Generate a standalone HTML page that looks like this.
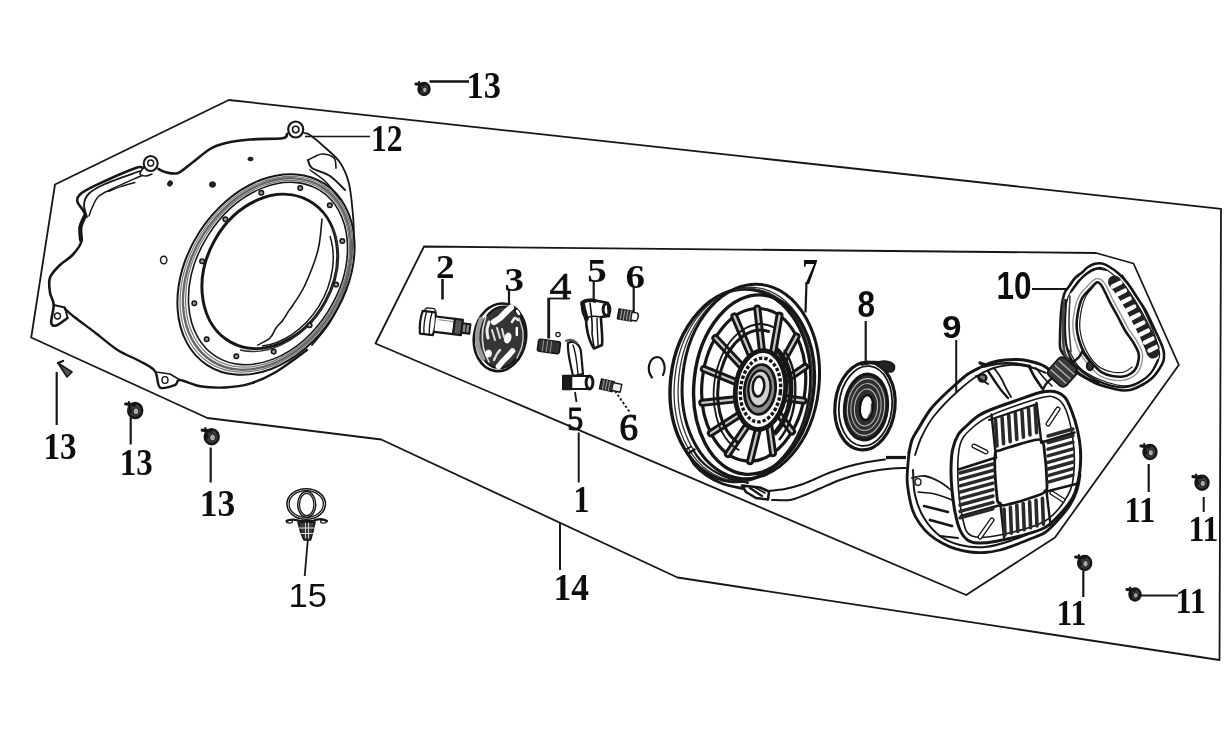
<!DOCTYPE html>
<html><head><meta charset="utf-8"><title>Recoil starter parts diagram</title>
<style>html,body{margin:0;padding:0;background:#fff;overflow:hidden}svg{display:block}</style></head>
<body>
<svg width="1228" height="738" viewBox="0 0 1228 738">
<defs><filter id="soft" x="-2%" y="-2%" width="104%" height="104%"><feGaussianBlur stdDeviation="0.55"/></filter></defs>
<rect width="1228" height="738" fill="#fff"/>
<g filter="url(#soft)">
<polygon points="228.8,100.0 1221.0,208.8 1219.5,660.0 677.5,577.5 381.2,439.5 207.4,418.0 31.2,337.5 55.0,184.5" fill="none" stroke="#161616" stroke-width="1.8" stroke-linejoin="round" stroke-linecap="round" />
<polygon points="424.0,246.5 1096.0,253.0 1133.5,263.5 1178.8,365.0 1055.0,537.5 966.2,595.0 375.5,343.5" fill="none" stroke="#161616" stroke-width="1.8" stroke-linejoin="round" stroke-linecap="round" />
<text x="466.5" y="98.0" font-family='"Liberation Serif", serif' font-size="37.4" font-weight="bold" textLength="34.5" lengthAdjust="spacingAndGlyphs" fill="#111" >13</text>
<line x1="429.5" y1="81.5" x2="469" y2="81.5" stroke="#161616" stroke-width="2.6" />
<g transform="rotate(0 424 89)">
<ellipse cx="424" cy="89" rx="5.5" ry="5.94" transform="rotate(0 424 89)" fill="#3c3c3c" stroke="#161616" stroke-width="2.4" />
<ellipse cx="424.8" cy="89.8" rx="2.31" ry="2.75" transform="rotate(0 424.8 89.8)" fill="#aaa" stroke="#161616" stroke-width="1.0" />
<path d="M416.0,84.0 L423.45,84.6" fill="none" stroke="#161616" stroke-width="3.2" stroke-linejoin="round" stroke-linecap="round" />
<path d="M419.05,82.0 L420.7,90.1" fill="none" stroke="#161616" stroke-width="2.2" stroke-linejoin="round" stroke-linecap="round" />
</g>
<text x="371.0" y="150.5" font-family='"Liberation Serif", serif' font-size="38.5" font-weight="bold" textLength="31.5" lengthAdjust="spacingAndGlyphs" fill="#111" >12</text>
<line x1="305" y1="136.5" x2="370" y2="136.5" stroke="#161616" stroke-width="1.6" />
<text x="43.5" y="458.5" font-family='"Liberation Serif", serif' font-size="37.4" font-weight="bold" textLength="33" lengthAdjust="spacingAndGlyphs" fill="#111" >13</text>
<line x1="56.7" y1="372" x2="56.7" y2="425" stroke="#161616" stroke-width="2.2" />
<text x="119.7" y="475.0" font-family='"Liberation Serif", serif' font-size="37.4" font-weight="bold" textLength="33" lengthAdjust="spacingAndGlyphs" fill="#111" >13</text>
<line x1="130.7" y1="417.5" x2="130.7" y2="444.5" stroke="#161616" stroke-width="2.2" />
<g transform="rotate(0 135.2 410.5)">
<ellipse cx="135.2" cy="410.5" rx="7" ry="7.5600000000000005" transform="rotate(0 135.2 410.5)" fill="#3c3c3c" stroke="#161616" stroke-width="2.4" />
<ellipse cx="136.0" cy="411.3" rx="2.94" ry="3.5" transform="rotate(0 136.0 411.3)" fill="#aaa" stroke="#161616" stroke-width="1.0" />
<path d="M125.69999999999999,404.0 L134.5,404.9" fill="none" stroke="#161616" stroke-width="3.2" stroke-linejoin="round" stroke-linecap="round" />
<path d="M128.89999999999998,402.0 L131.0,411.9" fill="none" stroke="#161616" stroke-width="2.2" stroke-linejoin="round" stroke-linecap="round" />
</g>
<text x="199.7" y="516.0" font-family='"Liberation Serif", serif' font-size="38.5" font-weight="bold" textLength="35.5" lengthAdjust="spacingAndGlyphs" fill="#111" >13</text>
<line x1="210.7" y1="447.5" x2="210.7" y2="482.5" stroke="#161616" stroke-width="2.2" />
<g transform="rotate(0 211.7 436.7)">
<ellipse cx="211.7" cy="436.7" rx="7" ry="7.5600000000000005" transform="rotate(0 211.7 436.7)" fill="#3c3c3c" stroke="#161616" stroke-width="2.4" />
<ellipse cx="212.5" cy="437.5" rx="2.94" ry="3.5" transform="rotate(0 212.5 437.5)" fill="#aaa" stroke="#161616" stroke-width="1.0" />
<path d="M202.2,430.2 L211.0,431.09999999999997" fill="none" stroke="#161616" stroke-width="3.2" stroke-linejoin="round" stroke-linecap="round" />
<path d="M205.39999999999998,428.2 L207.5,438.09999999999997" fill="none" stroke="#161616" stroke-width="2.2" stroke-linejoin="round" stroke-linecap="round" />
</g>
<text x="436.0" y="278.0" font-family='"Liberation Serif", serif' font-size="33.8" font-weight="bold" textLength="18.5" lengthAdjust="spacingAndGlyphs" fill="#111" >2</text>
<line x1="442.5" y1="279" x2="442.5" y2="299.5" stroke="#161616" stroke-width="2.6" />
<text x="504.5" y="291.0" font-family='"Liberation Serif", serif' font-size="33.8" font-weight="bold" textLength="19.5" lengthAdjust="spacingAndGlyphs" fill="#111" >3</text>
<line x1="509" y1="290" x2="509" y2="309" stroke="#161616" stroke-width="2.2" />
<text x="549.5" y="299.0" font-family='"Liberation Serif", serif' font-size="37.4" font-weight="normal" textLength="22" lengthAdjust="spacingAndGlyphs" fill="#111" stroke="#111" stroke-width="0.6">4</text>
<line x1="547.5" y1="298.5" x2="570" y2="298.5" stroke="#161616" stroke-width="1.8" />
<line x1="548.7" y1="298.5" x2="548.7" y2="338.5" stroke="#161616" stroke-width="2.8" />
<text x="587.2" y="282.0" font-family='"Liberation Serif", serif' font-size="33.8" font-weight="bold" textLength="19.5" lengthAdjust="spacingAndGlyphs" fill="#111" >5</text>
<line x1="593.7" y1="281" x2="593.7" y2="305" stroke="#161616" stroke-width="2.2" />
<text x="625.5" y="288.0" font-family='"Liberation Serif", serif' font-size="33.8" font-weight="bold" textLength="19.5" lengthAdjust="spacingAndGlyphs" fill="#111" >6</text>
<line x1="633.7" y1="287" x2="633.7" y2="316" stroke="#161616" stroke-width="2.2" />
<text x="567.2" y="429.7" font-family='"Liberation Serif", serif' font-size="34.3" font-weight="normal" textLength="16" lengthAdjust="spacingAndGlyphs" fill="#111" stroke="#111" stroke-width="1.1">5</text>
<line x1="578.7" y1="432.5" x2="578.7" y2="482.5" stroke="#161616" stroke-width="2" />
<text x="619.5" y="439.7" font-family='"Liberation Serif", serif' font-size="37.4" font-weight="normal" textLength="18.5" lengthAdjust="spacingAndGlyphs" fill="#111" stroke="#111" stroke-width="1.2">6</text>
<line x1="615" y1="391" x2="630" y2="412.5" stroke="#161616" stroke-width="1.8" stroke-dasharray="2.5 2"/>
<text x="573.5" y="512.0" font-family='"Liberation Serif", serif' font-size="37.4" font-weight="bold" textLength="16" lengthAdjust="spacingAndGlyphs" fill="#111" >1</text>
<text x="553.5" y="599.5" font-family='"Liberation Serif", serif' font-size="38.5" font-weight="bold" textLength="35.5" lengthAdjust="spacingAndGlyphs" fill="#111" >14</text>
<line x1="560" y1="522.5" x2="560" y2="570" stroke="#161616" stroke-width="2" />
<text x="802.2" y="283.5" font-family='"Liberation Serif", serif' font-size="35.4" font-weight="bold" textLength="15.5" lengthAdjust="spacingAndGlyphs" fill="#111" >7</text>
<line x1="806.5" y1="282" x2="805.5" y2="312.5" stroke="#161616" stroke-width="2.2" />
<text x="1124.5" y="521.5" font-family='"Liberation Serif", serif' font-size="35.4" font-weight="bold" textLength="31" lengthAdjust="spacingAndGlyphs" fill="#111" >11</text>
<line x1="1148.7" y1="464" x2="1148.7" y2="492" stroke="#161616" stroke-width="2.2" />
<g transform="rotate(0 1150 452)">
<ellipse cx="1150" cy="452" rx="6.5" ry="7.0200000000000005" transform="rotate(0 1150 452)" fill="#3c3c3c" stroke="#161616" stroke-width="2.4" />
<ellipse cx="1150.8" cy="452.8" rx="2.73" ry="3.25" transform="rotate(0 1150.8 452.8)" fill="#aaa" stroke="#161616" stroke-width="1.0" />
<path d="M1141.0,446.0 L1149.35,446.8" fill="none" stroke="#161616" stroke-width="3.2" stroke-linejoin="round" stroke-linecap="round" />
<path d="M1144.15,444.0 L1146.1,453.3" fill="none" stroke="#161616" stroke-width="2.2" stroke-linejoin="round" stroke-linecap="round" />
</g>
<text x="1188.5" y="541.0" font-family='"Liberation Serif", serif' font-size="35.4" font-weight="bold" textLength="30" lengthAdjust="spacingAndGlyphs" fill="#111" >11</text>
<line x1="1203.7" y1="497" x2="1203.7" y2="512" stroke="#161616" stroke-width="2" />
<g transform="rotate(0 1202 482.7)">
<ellipse cx="1202" cy="482.7" rx="6.5" ry="7.0200000000000005" transform="rotate(0 1202 482.7)" fill="#3c3c3c" stroke="#161616" stroke-width="2.4" />
<ellipse cx="1202.8" cy="483.5" rx="2.73" ry="3.25" transform="rotate(0 1202.8 483.5)" fill="#aaa" stroke="#161616" stroke-width="1.0" />
<path d="M1193.0,476.7 L1201.35,477.5" fill="none" stroke="#161616" stroke-width="3.2" stroke-linejoin="round" stroke-linecap="round" />
<path d="M1196.15,474.7 L1198.1,484.0" fill="none" stroke="#161616" stroke-width="2.2" stroke-linejoin="round" stroke-linecap="round" />
</g>
<text x="1056.5" y="625.0" font-family='"Liberation Serif", serif' font-size="35.4" font-weight="bold" textLength="30" lengthAdjust="spacingAndGlyphs" fill="#111" >11</text>
<line x1="1083.3" y1="571" x2="1083.3" y2="597" stroke="#161616" stroke-width="2.2" />
<g transform="rotate(0 1084.7 563)">
<ellipse cx="1084.7" cy="563" rx="6.5" ry="7.0200000000000005" transform="rotate(0 1084.7 563)" fill="#3c3c3c" stroke="#161616" stroke-width="2.4" />
<ellipse cx="1085.5" cy="563.8" rx="2.73" ry="3.25" transform="rotate(0 1085.5 563.8)" fill="#aaa" stroke="#161616" stroke-width="1.0" />
<path d="M1075.7,557.0 L1084.05,557.8" fill="none" stroke="#161616" stroke-width="3.2" stroke-linejoin="round" stroke-linecap="round" />
<path d="M1078.8500000000001,555.0 L1080.8,564.3" fill="none" stroke="#161616" stroke-width="2.2" stroke-linejoin="round" stroke-linecap="round" />
</g>
<text x="1175.5" y="613.0" font-family='"Liberation Serif", serif' font-size="35.4" font-weight="bold" textLength="30.5" lengthAdjust="spacingAndGlyphs" fill="#111" >11</text>
<line x1="1141" y1="595.5" x2="1178" y2="595.5" stroke="#161616" stroke-width="2.2" />
<g transform="rotate(0 1135 594.5)">
<ellipse cx="1135" cy="594.5" rx="5.5" ry="5.94" transform="rotate(0 1135 594.5)" fill="#3c3c3c" stroke="#161616" stroke-width="2.4" />
<ellipse cx="1135.8" cy="595.3" rx="2.31" ry="2.75" transform="rotate(0 1135.8 595.3)" fill="#aaa" stroke="#161616" stroke-width="1.0" />
<path d="M1127.0,589.5 L1134.45,590.1" fill="none" stroke="#161616" stroke-width="3.2" stroke-linejoin="round" stroke-linecap="round" />
<path d="M1130.05,587.5 L1131.7,595.6" fill="none" stroke="#161616" stroke-width="2.2" stroke-linejoin="round" stroke-linecap="round" />
</g>
<text x="857.4" y="316.5" font-family='"Liberation Sans", sans-serif' font-size="36.4" font-weight="bold" textLength="17.5" lengthAdjust="spacingAndGlyphs" fill="#111" >8</text>
<line x1="865.7" y1="321" x2="865.7" y2="365" stroke="#161616" stroke-width="2.2" />
<text x="942.0" y="338.0" font-family='"Liberation Sans", sans-serif' font-size="32.2" font-weight="bold" textLength="19.5" lengthAdjust="spacingAndGlyphs" fill="#111" >9</text>
<line x1="956.2" y1="340" x2="956.2" y2="392.5" stroke="#161616" stroke-width="2" />
<text x="996.5" y="298.5" font-family='"Liberation Sans", sans-serif' font-size="38.0" font-weight="bold" textLength="35" lengthAdjust="spacingAndGlyphs" fill="#111" >10</text>
<line x1="1032" y1="289" x2="1069" y2="289" stroke="#161616" stroke-width="1.8" />
<text x="288.5" y="607.0" font-family='"Liberation Sans", sans-serif' font-size="32.8" font-weight="normal" textLength="38.5" lengthAdjust="spacingAndGlyphs" fill="#111" >15</text>
<line x1="307.8" y1="540" x2="304.7" y2="576" stroke="#161616" stroke-width="1.8" />
<path d="M287.0,134.0C286.2,134.7 288.7,137.3 282.5,138.2C276.3,139.1 259.6,138.7 250.0,139.5C240.4,140.3 231.7,141.6 225.0,143.2C218.3,144.8 215.8,145.4 210.0,149.0C204.2,152.6 195.4,160.5 190.0,164.5C184.6,168.5 181.7,171.9 177.5,173.2C173.3,174.4 168.2,172.7 165.0,172.0C161.8,171.3 159.6,169.5 158.5,169.0" fill="none" stroke="#161616" stroke-width="2.6" stroke-linejoin="round" stroke-linecap="round" />
<ellipse cx="150.7" cy="163.5" rx="7" ry="7.5" transform="rotate(0 150.7 163.5)" fill="none" stroke="#161616" stroke-width="2.0" />
<ellipse cx="150.7" cy="163" rx="3" ry="3" transform="rotate(0 150.7 163)" fill="none" stroke="#161616" stroke-width="1.4" />
<ellipse cx="295.7" cy="129.5" rx="7.5" ry="8" transform="rotate(0 295.7 129.5)" fill="none" stroke="#161616" stroke-width="2.2" />
<ellipse cx="295.7" cy="129.5" rx="3.2" ry="3.2" transform="rotate(0 295.7 129.5)" fill="none" stroke="#161616" stroke-width="1.6" />
<path d="M143.0,168.0C141.7,168.0 143.0,165.2 135.0,168.2C127.0,171.1 104.2,181.3 95.0,185.7C85.8,190.1 82.9,191.8 80.0,194.5C77.1,197.2 76.7,198.7 77.5,202.0C78.3,205.3 84.6,210.3 85.0,214.5C85.4,218.7 80.6,222.4 80.0,227.0C79.4,231.6 82.5,237.3 81.2,242.0C80.0,246.7 76.0,251.2 72.5,255.0C69.0,258.8 63.8,261.2 60.0,265.0C56.2,268.8 51.7,272.9 50.0,277.5C48.3,282.1 49.4,287.9 50.0,292.5C50.6,297.1 53.5,300.0 53.7,305.0C53.9,310.0 50.8,319.1 51.2,322.5C51.6,325.9 53.5,326.2 56.2,325.5C58.9,324.8 65.6,319.2 67.5,318.0" fill="none" stroke="#161616" stroke-width="2.6" stroke-linejoin="round" stroke-linecap="round" />
<path d="M140.0,171.0C134.2,173.2 113.5,180.2 105.0,184.0C96.5,187.8 92.5,190.1 89.0,193.5C85.5,196.9 84.3,200.6 84.0,204.5C83.7,208.4 86.5,214.9 87.0,217.0" fill="none" stroke="#161616" stroke-width="1.8" stroke-linejoin="round" stroke-linecap="round" />
<path d="M142.0,175.5C137.2,177.7 120.2,185.0 113.0,188.5C105.8,192.0 102.0,193.2 98.5,196.5C95.0,199.8 93.6,204.8 92.0,208.0C90.4,211.2 89.5,214.7 89.0,216.0" fill="none" stroke="#161616" stroke-width="1.5" stroke-linejoin="round" stroke-linecap="round" />
<path d="M135.0,182.5C132.5,183.2 124.4,185.5 120.0,187.0C115.6,188.5 110.4,190.8 108.5,191.5" fill="none" stroke="#161616" stroke-width="1.3" stroke-linejoin="round" stroke-linecap="round" />
<path d="M85.0,216.0C84.2,217.8 81.2,223.0 80.5,227.0C79.8,231.0 80.9,237.8 81.0,240.0" fill="none" stroke="#161616" stroke-width="4.2" stroke-linejoin="round" stroke-linecap="round" />
<path d="M143.0,168.0C142.5,169.0 139.5,172.7 140.0,174.0C140.5,175.3 144.0,176.0 146.0,176.0C148.0,176.0 151.0,174.3 152.0,174.0" fill="none" stroke="#161616" stroke-width="1.6" stroke-linejoin="round" stroke-linecap="round" />
<path d="M53.7,305 L65,307.5 L67.5,318" fill="none" stroke="#161616" stroke-width="1.8" stroke-linejoin="round" stroke-linecap="round" />
<ellipse cx="57.5" cy="316" rx="3" ry="3" transform="rotate(0 57.5 316)" fill="none" stroke="#161616" stroke-width="1.3" />
<path d="M65.0,309.0C66.7,310.4 70.0,313.6 75.0,317.5C80.0,321.4 87.9,327.1 95.0,332.5C102.1,337.9 110.0,345.2 117.5,350.0C125.0,354.8 133.8,357.7 140.0,361.2C146.2,364.7 151.7,366.8 155.0,371.2C158.3,375.6 156.7,385.2 160.0,387.5C163.3,389.8 171.7,386.2 175.0,385.0C178.3,383.8 175.8,379.8 180.0,380.0C184.2,380.2 192.5,384.9 200.0,386.2C207.5,387.4 216.7,387.9 225.0,387.5C233.3,387.1 241.7,386.2 250.0,383.7C258.3,381.2 265.5,378.1 275.0,372.5C284.5,366.9 301.7,353.8 307.0,350.0" fill="none" stroke="#161616" stroke-width="2.4" stroke-linejoin="round" stroke-linecap="round" />
<ellipse cx="165" cy="380" rx="3" ry="3.4" transform="rotate(0 165 380)" fill="none" stroke="#161616" stroke-width="1.4" />
<path d="M156,372 L170,374 L180,380" fill="none" stroke="#161616" stroke-width="1.6" stroke-linejoin="round" stroke-linecap="round" />
<path d="M304.0,133.0C305.0,133.3 306.5,132.6 310.0,135.0C313.5,137.4 320.0,142.9 325.0,147.5C330.0,152.1 336.1,156.7 340.0,162.5C343.9,168.3 346.6,174.6 348.7,182.5C350.8,190.4 351.7,201.2 352.5,210.0C353.3,218.8 354.1,225.8 353.7,235.0C353.3,244.2 351.8,255.0 350.0,265.0C348.2,275.0 346.3,285.5 343.0,295.0C339.7,304.5 335.2,313.7 330.0,322.0C324.8,330.3 315.0,341.2 312.0,345.0" fill="none" stroke="#161616" stroke-width="1.8" stroke-linejoin="round" stroke-linecap="round" />
<path d="M308.0,160.0C310.3,159.0 317.7,154.3 322.0,154.0C326.3,153.7 331.7,155.7 334.0,158.0C336.3,160.3 335.7,166.3 336.0,168.0" fill="none" stroke="#161616" stroke-width="1.6" stroke-linejoin="round" stroke-linecap="round" />
<path d="M308.0,160.0C308.7,161.3 308.3,165.3 312.0,168.0C315.7,170.7 324.5,172.3 330.0,176.0C335.5,179.7 342.5,187.7 345.0,190.0" fill="none" stroke="#161616" stroke-width="2.0" stroke-linejoin="round" stroke-linecap="round" />
<path d="M310.0,170.0C312.7,172.0 321.0,177.0 326.0,182.0C331.0,187.0 337.7,197.0 340.0,200.0" fill="none" stroke="#161616" stroke-width="1.4" stroke-linejoin="round" stroke-linecap="round" />
<ellipse cx="266" cy="274.5" rx="79" ry="108" transform="rotate(33 266 274.5)" fill="none" stroke="#161616" stroke-width="2.0" />
<ellipse cx="266.5" cy="274.2" rx="77" ry="105.5" transform="rotate(33 266.5 274.2)" fill="none" stroke="#777" stroke-width="1.2" />
<ellipse cx="267" cy="274" rx="75" ry="103" transform="rotate(32.5 267 274)" fill="none" stroke="#666" stroke-width="2.4" />
<ellipse cx="267.5" cy="273.7" rx="73" ry="100.5" transform="rotate(32.5 267.5 273.7)" fill="none" stroke="#777" stroke-width="1.2" />
<ellipse cx="268" cy="273.5" rx="71" ry="98" transform="rotate(32 268 273.5)" fill="none" stroke="#161616" stroke-width="1.6" />
<ellipse cx="269.8" cy="271.4" rx="63.3" ry="80.8" transform="rotate(29 269.8 271.4)" fill="none" stroke="#161616" stroke-width="3.0" />
<path d="M322.0,219.0C321.3,224.2 320.8,239.0 318.0,250.0C315.2,261.0 309.2,275.8 305.0,285.0C300.8,294.2 295.8,300.5 293.0,305.0C290.2,309.5 289.7,309.5 288.0,312.0C286.3,314.5 285.0,317.3 283.0,320.0C281.0,322.7 278.2,325.0 276.0,328.0C273.8,331.0 273.0,335.2 270.0,338.0C267.0,340.8 260.0,343.8 258.0,345.0" fill="none" stroke="#161616" stroke-width="1.6" stroke-linejoin="round" stroke-linecap="round" />
<path d="M330,236 A60,77 29 0 1 262,346" fill="none" stroke="#161616" stroke-width="1.5"/>
<path d="M333,228 A66,84 29 0 1 240,350" fill="none" stroke="#333" stroke-width="1.3"/>
<ellipse cx="261.3" cy="192.7" rx="2.3" ry="2.3" transform="rotate(0 261.3 192.7)" fill="#999" stroke="#161616" stroke-width="1.5" />
<ellipse cx="300.2" cy="188.0" rx="2.3" ry="2.3" transform="rotate(0 300.2 188.0)" fill="#999" stroke="#161616" stroke-width="1.5" />
<ellipse cx="329.8" cy="205.2" rx="2.3" ry="2.3" transform="rotate(0 329.8 205.2)" fill="#999" stroke="#161616" stroke-width="1.5" />
<ellipse cx="342.3" cy="241.0" rx="2.3" ry="2.3" transform="rotate(0 342.3 241.0)" fill="#999" stroke="#161616" stroke-width="1.5" />
<ellipse cx="336.1" cy="284.6" rx="2.3" ry="2.3" transform="rotate(0 336.1 284.6)" fill="#999" stroke="#161616" stroke-width="1.5" />
<ellipse cx="309.6" cy="325.2" rx="2.3" ry="2.3" transform="rotate(0 309.6 325.2)" fill="#999" stroke="#161616" stroke-width="1.5" />
<ellipse cx="273.7" cy="351.6" rx="2.3" ry="2.3" transform="rotate(0 273.7 351.6)" fill="#999" stroke="#161616" stroke-width="1.5" />
<ellipse cx="236.3" cy="356.3" rx="2.3" ry="2.3" transform="rotate(0 236.3 356.3)" fill="#999" stroke="#161616" stroke-width="1.5" />
<ellipse cx="206.7" cy="339.2" rx="2.3" ry="2.3" transform="rotate(0 206.7 339.2)" fill="#999" stroke="#161616" stroke-width="1.5" />
<ellipse cx="194.3" cy="303.3" rx="2.3" ry="2.3" transform="rotate(0 194.3 303.3)" fill="#999" stroke="#161616" stroke-width="1.5" />
<ellipse cx="202.1" cy="261.3" rx="2.3" ry="2.3" transform="rotate(0 202.1 261.3)" fill="#999" stroke="#161616" stroke-width="1.5" />
<ellipse cx="225.4" cy="219.2" rx="2.3" ry="2.3" transform="rotate(0 225.4 219.2)" fill="#999" stroke="#161616" stroke-width="1.5" />
<ellipse cx="163.7" cy="260" rx="3.2" ry="3.8" transform="rotate(0 163.7 260)" fill="none" stroke="#161616" stroke-width="1.4" />
<ellipse cx="212.5" cy="184.5" rx="3" ry="2.8" transform="rotate(0 212.5 184.5)" fill="#222" stroke="#161616" stroke-width="1" />
<ellipse cx="250.5" cy="159" rx="2.6" ry="1.8" transform="rotate(0 250.5 159)" fill="#222" stroke="#161616" stroke-width="1" />
<ellipse cx="170" cy="183.5" rx="2.2" ry="2.6" transform="rotate(30 170 183.5)" fill="#222" stroke="#161616" stroke-width="1" />
<g transform="translate(0 4.5) rotate(7 444 322)">
<path d="M421,309 q-2.5,11.5 0,23 h13 q2.5,-11.5 0,-23 z" fill="#fff" stroke="#161616" stroke-width="2.2" stroke-linejoin="round" stroke-linecap="round" />
<path d="M425,309 q-2,11.5 0,23 M430.5,309 q-2,11.5 0,23" fill="none" stroke="#161616" stroke-width="1.3" stroke-linejoin="round" stroke-linecap="round" />
<path d="M435,313 h19 v15.5 h-19" fill="#fff" stroke="#161616" stroke-width="2.2" stroke-linejoin="round" stroke-linecap="round" />
<path d="M438,316 h14" fill="none" stroke="#888" stroke-width="1.0" stroke-linejoin="round" stroke-linecap="round" />
<path d="M454,313 h8 v15.5 h-8z" fill="#555" stroke="#161616" stroke-width="2.0" stroke-linejoin="round" stroke-linecap="round" />
<path d="M462,316.5 h8 v9.5 h-8z" fill="#888" stroke="#161616" stroke-width="2.0" stroke-linejoin="round" stroke-linecap="round" />
<path d="M466,316.5 v9.5" fill="none" stroke="#161616" stroke-width="1.2" stroke-linejoin="round" stroke-linecap="round" />
<path d="M423,307.5 l2,-2 h7 l2,2" fill="none" stroke="#161616" stroke-width="1.3" stroke-linejoin="round" stroke-linecap="round" />
</g>
<ellipse cx="500" cy="337.3" rx="26" ry="34" transform="rotate(9 500 337.3)" fill="#fff" stroke="#161616" stroke-width="2.6" />
<ellipse cx="501.5" cy="337.3" rx="22.5" ry="31" transform="rotate(9 501.5 337.3)" fill="#363636" stroke="#161616" stroke-width="2.0" />
<path d="M481.0,319.0C480.4,321.2 478.0,327.5 477.5,332.0C477.0,336.5 477.1,341.5 478.0,346.0C478.9,350.5 482.2,356.8 483.0,359.0" fill="none" stroke="#9a9a9a" stroke-width="4.5" stroke-linejoin="round" stroke-linecap="round" />
<path d="M486.0,316.0C485.4,318.7 482.9,326.7 482.5,332.0C482.1,337.3 482.4,343.0 483.5,348.0C484.6,353.0 488.1,359.7 489.0,362.0" fill="none" stroke="#ddd" stroke-width="1.6" stroke-linejoin="round" stroke-linecap="round" />
<path d="M494.0,322.0C495.0,321.3 498.0,319.7 500.0,318.0C502.0,316.3 504.2,313.8 506.0,312.0C507.8,310.2 510.2,308.2 511.0,307.5" fill="none" stroke="#fff" stroke-width="6.2" stroke-linejoin="round" stroke-linecap="round" />
<path d="M498.5,366.5C499.2,365.6 501.4,362.8 503.0,361.0C504.6,359.2 506.4,357.7 508.0,356.0C509.6,354.3 511.8,351.8 512.5,351.0" fill="none" stroke="#fff" stroke-width="5.6" stroke-linejoin="round" stroke-linecap="round" />
<ellipse cx="507.7" cy="338" rx="3.2" ry="5.2" transform="rotate(15 507.7 338)" fill="#fff" stroke="#fff" stroke-width="0.8" />
<ellipse cx="488.5" cy="353.5" rx="3" ry="3.6" transform="rotate(0 488.5 353.5)" fill="#fff" stroke="#fff" stroke-width="0.8" />
<path d="M516.8,328 v7" fill="none" stroke="#fff" stroke-width="2.4" stroke-linejoin="round" stroke-linecap="round" />
<path d="M517,311 l2,3" fill="none" stroke="#fff" stroke-width="2.6" stroke-linejoin="round" stroke-linecap="round" />
<path d="M492,330 l3,10 M497,328 l3,10 M502,329 l2,8" fill="none" stroke="#ddd" stroke-width="2.0" stroke-linejoin="round" stroke-linecap="round" />
<path d="M489.0,322.0C488.7,323.3 487.2,327.3 487.0,330.0C486.8,332.7 487.8,336.7 488.0,338.0" fill="none" stroke="#eee" stroke-width="3.0" stroke-linejoin="round" stroke-linecap="round" />
<path d="M512.0,322.0C512.5,321.3 514.0,318.3 515.0,318.0C516.0,317.7 517.5,319.7 518.0,320.0" fill="none" stroke="#eee" stroke-width="2.6" stroke-linejoin="round" stroke-linecap="round" />
<path d="M494.0,360.0C494.5,359.0 496.0,355.7 497.0,354.0C498.0,352.3 499.5,350.7 500.0,350.0" fill="none" stroke="#ddd" stroke-width="2.4" stroke-linejoin="round" stroke-linecap="round" />
<path d="M519.0,318.0C519.7,320.3 522.5,327.3 523.0,332.0C523.5,336.7 523.0,341.7 522.0,346.0C521.0,350.3 517.8,356.0 517.0,358.0" fill="none" stroke="#ccc" stroke-width="1.4" stroke-linejoin="round" stroke-linecap="round" />
<g transform="rotate(8 549 346)">
<path d="M540,340.5 h18 q2,0 2,2 v8 q0,2 -2,2 h-18 q-2,0 -2,-2 v-8 q0,-2 2,-2z" fill="#333" stroke="#161616" stroke-width="1.6" stroke-linejoin="round" stroke-linecap="round" />
<path d="M543,341 v11 M547,341 v11 M551,341 v11" fill="none" stroke="#999" stroke-width="1" stroke-linejoin="round" stroke-linecap="round" />
</g>
<ellipse cx="558" cy="334.5" rx="2.2" ry="2.2" transform="rotate(0 558 334.5)" fill="none" stroke="#161616" stroke-width="1.2" />
<path d="M582,304 C582,300 590,299 598,301 L608,303 L609,316 L601,317 C601,326 603,336 602,345 L594,348.5 C588,340 586,326 586,318 C583,315 582,310 582,304Z" fill="#fff" stroke="#161616" stroke-width="2.6" stroke-linejoin="round" stroke-linecap="round" />
<path d="M582.5,303 C584,312 586,316 586.5,319" fill="none" stroke="#161616" stroke-width="4.6" stroke-linejoin="round" stroke-linecap="round" />
<path d="M584,301.5 C588,300 592,300 595,301" fill="none" stroke="#161616" stroke-width="3.6" stroke-linejoin="round" stroke-linecap="round" />
<path d="M590,303 C591,312 593,322 592,334 L594,347" fill="none" stroke="#161616" stroke-width="1.6" stroke-linejoin="round" stroke-linecap="round" />
<path d="M597,318 C597,328 598,338 598,345" fill="none" stroke="#161616" stroke-width="1.4" stroke-linejoin="round" stroke-linecap="round" />
<ellipse cx="606.5" cy="309.5" rx="3.4" ry="6" transform="rotate(0 606.5 309.5)" fill="none" stroke="#161616" stroke-width="3.0" />
<path d="M586,318 C590,316 596,316 601,317" fill="none" stroke="#161616" stroke-width="1.4" stroke-linejoin="round" stroke-linecap="round" />
<g transform="rotate(10 628 316)">
<path d="M618,310.5 h14 v10 h-14z" fill="#333" stroke="#161616" stroke-width="1.4" stroke-linejoin="round" stroke-linecap="round" />
<path d="M621,310.5 v10 M624,310.5 v10 M627,310.5 v10 M630,310.5 v10" fill="none" stroke="#aaa" stroke-width="0.9" stroke-linejoin="round" stroke-linecap="round" />
<path d="M632,311.5 h5 q2.5,4 0,8 h-5" fill="#fff" stroke="#161616" stroke-width="1.5" stroke-linejoin="round" stroke-linecap="round" />
</g>
<path d="M568,343 C574,340 580,344 581,352 L583,374 L573,376 C571,366 567,352 568,343Z" fill="#fff" stroke="#161616" stroke-width="2.2" stroke-linejoin="round" stroke-linecap="round" />
<path d="M566,341 C570,339 574,340 577,343" fill="none" stroke="#555" stroke-width="2.0" stroke-linejoin="round" stroke-linecap="round" />
<path d="M573,345 C576,352 577,364 578,374" fill="none" stroke="#161616" stroke-width="1.4" stroke-linejoin="round" stroke-linecap="round" />
<path d="M563,376 h25 v13 h-25z" fill="#fff" stroke="#161616" stroke-width="2.0" stroke-linejoin="round" stroke-linecap="round" />
<path d="M563,375.5 h8.5 v14 h-8.5z" fill="#1c1c1c" stroke="#161616" stroke-width="1.6" stroke-linejoin="round" stroke-linecap="round" />
<ellipse cx="589.5" cy="382.5" rx="3.4" ry="6.4" transform="rotate(0 589.5 382.5)" fill="#fff" stroke="#161616" stroke-width="3.0" />
<line x1="575" y1="392" x2="576.5" y2="402" stroke="#161616" stroke-width="1.8" />
<g transform="rotate(12 610 387)">
<path d="M600,381 h13 v10 h-13z" fill="#333" stroke="#161616" stroke-width="1.4" stroke-linejoin="round" stroke-linecap="round" />
<path d="M603,381 v10 M606,381 v10 M609,381 v10" fill="none" stroke="#aaa" stroke-width="0.9" stroke-linejoin="round" stroke-linecap="round" />
<path d="M613,382 h8 v8 h-8" fill="#eee" stroke="#161616" stroke-width="1.4" stroke-linejoin="round" stroke-linecap="round" />
</g>
<path d="M652,377.5 C646,370 649,358 657,357 C664,357 666.5,368 663,375" fill="none" stroke="#161616" stroke-width="2.2" stroke-linejoin="round" stroke-linecap="round" />
<ellipse cx="740.4" cy="385.3" rx="70" ry="96.5" transform="rotate(6 740.4 385.3)" fill="none" stroke="#161616" stroke-width="3.4" />
<ellipse cx="743" cy="384.5" rx="68.5" ry="96.5" transform="rotate(6 743 384.5)" fill="none" stroke="#333" stroke-width="1.3" />
<ellipse cx="746" cy="383.5" rx="67.5" ry="96.5" transform="rotate(6 746 383.5)" fill="none" stroke="#333" stroke-width="1.3" />
<ellipse cx="750.8" cy="381.5" rx="68.3" ry="97.5" transform="rotate(6 750.8 381.5)" fill="none" stroke="#161616" stroke-width="3.0" />
<ellipse cx="754" cy="384.6" rx="60" ry="90" transform="rotate(6 754 384.6)" fill="none" stroke="#161616" stroke-width="3.4" />
<ellipse cx="753.7" cy="384.8" rx="51.7" ry="76.5" transform="rotate(6 753.7 384.8)" fill="none" stroke="#161616" stroke-width="3.2" />
<path d="M784.1,398.0 L803.5,400.7" fill="none" stroke="#161616" stroke-width="8" stroke-linejoin="round" stroke-linecap="round" stroke-linecap="butt"/>
<path d="M784.1,398.0 L803.5,400.7" fill="none" stroke="#c8c8c8" stroke-width="2.2" stroke-linejoin="round" stroke-linecap="round" />
<path d="M778.4,413.7 L792.0,431.5" fill="none" stroke="#161616" stroke-width="8" stroke-linejoin="round" stroke-linecap="round" stroke-linecap="butt"/>
<path d="M778.4,413.7 L792.0,431.5" fill="none" stroke="#c8c8c8" stroke-width="2.2" stroke-linejoin="round" stroke-linecap="round" />
<path d="M769.1,424.7 L773.0,453.1" fill="none" stroke="#161616" stroke-width="8" stroke-linejoin="round" stroke-linecap="round" stroke-linecap="butt"/>
<path d="M769.1,424.7 L773.0,453.1" fill="none" stroke="#c8c8c8" stroke-width="2.2" stroke-linejoin="round" stroke-linecap="round" />
<path d="M758.0,428.9 L750.1,461.1" fill="none" stroke="#161616" stroke-width="8" stroke-linejoin="round" stroke-linecap="round" stroke-linecap="butt"/>
<path d="M758.0,428.9 L750.1,461.1" fill="none" stroke="#c8c8c8" stroke-width="2.2" stroke-linejoin="round" stroke-linecap="round" />
<path d="M747.3,425.3 L727.9,454.0" fill="none" stroke="#161616" stroke-width="8" stroke-linejoin="round" stroke-linecap="round" stroke-linecap="butt"/>
<path d="M747.3,425.3 L727.9,454.0" fill="none" stroke="#c8c8c8" stroke-width="2.2" stroke-linejoin="round" stroke-linecap="round" />
<path d="M739.1,414.8 L710.9,433.2" fill="none" stroke="#161616" stroke-width="8" stroke-linejoin="round" stroke-linecap="round" stroke-linecap="butt"/>
<path d="M739.1,414.8 L710.9,433.2" fill="none" stroke="#c8c8c8" stroke-width="2.2" stroke-linejoin="round" stroke-linecap="round" />
<path d="M735.1,399.3 L702.3,402.8" fill="none" stroke="#161616" stroke-width="8" stroke-linejoin="round" stroke-linecap="round" stroke-linecap="butt"/>
<path d="M735.1,399.3 L702.3,402.8" fill="none" stroke="#c8c8c8" stroke-width="2.2" stroke-linejoin="round" stroke-linecap="round" />
<path d="M735.9,382.0 L703.9,368.9" fill="none" stroke="#161616" stroke-width="8" stroke-linejoin="round" stroke-linecap="round" stroke-linecap="butt"/>
<path d="M735.9,382.0 L703.9,368.9" fill="none" stroke="#c8c8c8" stroke-width="2.2" stroke-linejoin="round" stroke-linecap="round" />
<path d="M741.6,366.3 L715.4,338.1" fill="none" stroke="#161616" stroke-width="8" stroke-linejoin="round" stroke-linecap="round" stroke-linecap="butt"/>
<path d="M741.6,366.3 L715.4,338.1" fill="none" stroke="#c8c8c8" stroke-width="2.2" stroke-linejoin="round" stroke-linecap="round" />
<path d="M750.9,355.3 L734.4,316.5" fill="none" stroke="#161616" stroke-width="8" stroke-linejoin="round" stroke-linecap="round" stroke-linecap="butt"/>
<path d="M750.9,355.3 L734.4,316.5" fill="none" stroke="#c8c8c8" stroke-width="2.2" stroke-linejoin="round" stroke-linecap="round" />
<path d="M762.0,351.1 L757.3,308.5" fill="none" stroke="#161616" stroke-width="8" stroke-linejoin="round" stroke-linecap="round" stroke-linecap="butt"/>
<path d="M762.0,351.1 L757.3,308.5" fill="none" stroke="#c8c8c8" stroke-width="2.2" stroke-linejoin="round" stroke-linecap="round" />
<path d="M772.7,354.7 L779.5,315.6" fill="none" stroke="#161616" stroke-width="8" stroke-linejoin="round" stroke-linecap="round" stroke-linecap="butt"/>
<path d="M772.7,354.7 L779.5,315.6" fill="none" stroke="#c8c8c8" stroke-width="2.2" stroke-linejoin="round" stroke-linecap="round" />
<path d="M780.9,365.2 L796.5,336.4" fill="none" stroke="#161616" stroke-width="8" stroke-linejoin="round" stroke-linecap="round" stroke-linecap="butt"/>
<path d="M780.9,365.2 L796.5,336.4" fill="none" stroke="#c8c8c8" stroke-width="2.2" stroke-linejoin="round" stroke-linecap="round" />
<path d="M784.9,380.7 L805.1,366.8" fill="none" stroke="#161616" stroke-width="8" stroke-linejoin="round" stroke-linecap="round" stroke-linecap="butt"/>
<path d="M784.9,380.7 L805.1,366.8" fill="none" stroke="#c8c8c8" stroke-width="2.2" stroke-linejoin="round" stroke-linecap="round" />
<path d="M769.8,331.9 A39,59 6 0 0 737.9,442.7" fill="none" stroke="#161616" stroke-width="3"/>
<path d="M774.6,327.7 A43,65 6 0 0 739.4,450.3" fill="none" stroke="#161616" stroke-width="1.8"/>
<ellipse cx="760.5" cy="390" rx="25" ry="39.5" transform="rotate(6 760.5 390)" fill="#fff" stroke="#161616" stroke-width="4.8" />
<ellipse cx="760.5" cy="390" rx="20" ry="32" transform="rotate(6 760.5 390)" fill="none" stroke="#161616" stroke-width="3.4" stroke-dasharray="3.4 2"/>
<ellipse cx="760" cy="389.5" rx="15.5" ry="25" transform="rotate(6 760 389.5)" fill="#8a8a8a" stroke="#161616" stroke-width="2.8" />
<ellipse cx="759.5" cy="388.5" rx="11" ry="18" transform="rotate(6 759.5 388.5)" fill="#d0d0d0" stroke="#161616" stroke-width="2.4" />
<ellipse cx="758.5" cy="386.5" rx="5.7" ry="10" transform="rotate(6 758.5 386.5)" fill="#fff" stroke="#161616" stroke-width="2.6" />
<path d="M776,349 A33,50 6 0 1 774,434" fill="none" stroke="#161616" stroke-width="5"/>
<path d="M784,350 A40,60 6 0 1 779,440" fill="none" stroke="#161616" stroke-width="2.4"/>
<path d="M688.0,453.0C689.0,454.8 691.0,460.3 694.0,464.0C697.0,467.7 701.3,471.8 706.0,475.0C710.7,478.2 716.0,481.2 722.0,483.5C728.0,485.8 738.7,487.7 742.0,488.5" fill="none" stroke="#161616" stroke-width="2.8" stroke-linejoin="round" stroke-linecap="round" />
<path d="M693.0,450.0C694.2,451.7 696.7,456.6 700.0,460.0C703.3,463.4 708.0,467.4 713.0,470.5C718.0,473.6 724.2,476.4 730.0,478.5C735.8,480.6 745.0,482.2 748.0,483.0" fill="none" stroke="#161616" stroke-width="2.0" stroke-linejoin="round" stroke-linecap="round" />
<path d="M687.5,454 L694.5,449.5" fill="none" stroke="#161616" stroke-width="2.6" stroke-linejoin="round" stroke-linecap="round" />
<path d="M689,456 L685.5,450 L691,446.5" fill="none" stroke="#161616" stroke-width="1.8" stroke-linejoin="round" stroke-linecap="round" />
<path d="M742,485.5 L760,487.5 L769,491.5 L768,499.5 L756,498 L746,492 Z" fill="#fff" stroke="#161616" stroke-width="2.6" stroke-linejoin="round" stroke-linecap="round" />
<path d="M750,488 L762,496" fill="none" stroke="#161616" stroke-width="2.2" stroke-linejoin="round" stroke-linecap="round" />
<path d="M755,487.5 L765,493" fill="none" stroke="#161616" stroke-width="1.6" stroke-linejoin="round" stroke-linecap="round" />
<path d="M768.0,491.0C770.8,490.7 779.7,490.0 785.0,489.0C790.3,488.0 795.0,486.7 800.0,485.0C805.0,483.3 810.0,481.1 815.0,479.0C820.0,476.9 824.5,474.6 830.0,472.5C835.5,470.4 842.2,468.2 848.0,466.5C853.8,464.8 858.8,463.7 865.0,462.5C871.2,461.3 881.7,460.0 885.0,459.5" fill="none" stroke="#161616" stroke-width="2.0" stroke-linejoin="round" stroke-linecap="round" />
<path d="M772.0,500.0C775.0,500.0 784.5,500.8 790.0,500.0C795.5,499.2 800.0,496.9 805.0,495.0C810.0,493.1 814.2,491.0 820.0,488.5C825.8,486.0 832.5,482.7 840.0,480.0C847.5,477.3 856.7,474.4 865.0,472.5C873.3,470.6 883.2,469.4 890.0,468.7C896.8,467.9 903.3,468.1 906.0,468.0" fill="none" stroke="#161616" stroke-width="2.0" stroke-linejoin="round" stroke-linecap="round" />
<line x1="886" y1="457.5" x2="906" y2="457.5" stroke="#161616" stroke-width="3.2" />
<ellipse cx="865" cy="406" rx="30" ry="44" transform="rotate(6 865 406)" fill="#fff" stroke="#161616" stroke-width="3.2" />
<ellipse cx="865.5" cy="406" rx="26.5" ry="40" transform="rotate(6 865.5 406)" fill="none" stroke="#161616" stroke-width="1.8" />
<ellipse cx="866" cy="407" rx="21.5" ry="33" transform="rotate(6 866 407)" fill="#2e2e2e" stroke="#161616" stroke-width="3" />
<ellipse cx="866" cy="407" rx="18.5" ry="28.5" transform="rotate(6 866 407)" fill="none" stroke="#bbb" stroke-width="1.1" />
<ellipse cx="866" cy="407" rx="15" ry="23.5" transform="rotate(6 866 407)" fill="none" stroke="#aaa" stroke-width="1.1" />
<ellipse cx="866" cy="407.5" rx="11.5" ry="18.5" transform="rotate(6 866 407.5)" fill="none" stroke="#bbb" stroke-width="1.1" />
<ellipse cx="866.5" cy="407.5" rx="6.5" ry="12.5" transform="rotate(6 866.5 407.5)" fill="#fff" stroke="#111" stroke-width="2.2" />
<path d="M868.0,417.0C868.5,416.2 870.4,414.2 871.0,412.0C871.6,409.8 871.4,405.3 871.5,404.0" fill="none" stroke="#444" stroke-width="1.4" stroke-linejoin="round" stroke-linecap="round" />
<path d="M862.0,364.0C863.7,363.8 868.7,362.7 872.0,362.5C875.3,362.3 880.3,362.9 882.0,363.0" fill="none" stroke="#161616" stroke-width="3.6" stroke-linejoin="round" stroke-linecap="round" />
<path d="M880,361.5 C886,360 893,362 894.5,366 C895,370 893,372.5 889,372 C885,371 881,368 878,366Z" fill="#222" stroke="#161616" stroke-width="1.6" stroke-linejoin="round" stroke-linecap="round" />
<path d="M909.0,452.5C909.5,450.4 910.6,443.8 912.0,440.0C913.4,436.2 914.5,435.0 917.5,430.0C920.5,425.0 925.9,415.5 930.0,410.0C934.1,404.5 937.8,401.2 942.0,397.0C946.2,392.8 950.7,388.8 955.0,385.0C959.3,381.2 963.8,376.9 968.0,374.0C972.2,371.1 976.0,369.4 980.0,367.5C984.0,365.6 987.8,363.8 992.0,362.5C996.2,361.2 1000.7,360.5 1005.0,360.0C1009.3,359.5 1013.8,359.3 1018.0,359.5C1022.2,359.7 1026.0,360.3 1030.0,361.2C1034.0,362.1 1038.7,363.5 1042.0,365.0C1045.3,366.5 1048.7,369.2 1050.0,370.0" fill="none" stroke="#161616" stroke-width="3.0" stroke-linejoin="round" stroke-linecap="round" />
<path d="M915.0,455.0C916.2,451.8 918.8,442.5 922.0,436.0C925.2,429.5 928.0,423.5 934.0,416.0C940.0,408.5 950.0,398.2 958.0,391.0C966.0,383.8 974.2,377.2 982.0,373.0C989.8,368.8 997.3,366.6 1005.0,365.5C1012.7,364.4 1021.2,365.2 1028.0,366.5C1034.8,367.8 1043.0,371.9 1046.0,373.0" fill="none" stroke="#161616" stroke-width="1.8" stroke-linejoin="round" stroke-linecap="round" />
<path d="M909.0,452.5C908.8,455.4 907.8,464.6 907.5,470.0C907.2,475.4 906.7,478.3 907.5,485.0C908.3,491.7 910.4,503.5 912.5,510.0C914.6,516.5 917.1,519.8 920.0,524.0C922.9,528.2 926.3,531.8 930.0,535.0C933.7,538.2 937.8,540.7 942.0,543.0C946.2,545.3 950.3,547.2 955.0,548.7C959.7,550.2 965.0,551.4 970.0,552.0C975.0,552.6 980.0,552.8 985.0,552.5C990.0,552.2 995.0,551.2 1000.0,550.0C1005.0,548.8 1010.0,546.8 1015.0,545.0C1020.0,543.2 1025.0,541.1 1030.0,539.0C1035.0,536.9 1040.3,535.7 1045.0,532.5C1049.7,529.3 1053.8,524.6 1058.0,520.0C1062.2,515.4 1066.8,510.0 1070.0,505.0C1073.2,500.0 1075.3,495.0 1077.0,490.0C1078.7,485.0 1079.5,477.5 1080.0,475.0" fill="none" stroke="#161616" stroke-width="2.8" stroke-linejoin="round" stroke-linecap="round" />
<path d="M913.0,470.0C913.3,474.2 913.2,487.0 915.0,495.0C916.8,503.0 919.8,511.2 924.0,518.0C928.2,524.8 934.0,531.5 940.0,536.0C946.0,540.5 952.5,543.2 960.0,545.0C967.5,546.8 976.7,547.7 985.0,547.0C993.3,546.3 1000.8,544.0 1010.0,541.0C1019.2,538.0 1035.0,531.0 1040.0,529.0" fill="none" stroke="#161616" stroke-width="2.0" stroke-linejoin="round" stroke-linecap="round" />
<path d="M967.5,425.0C970.8,421.8 974.2,418.5 978.0,416.0C981.8,413.5 983.8,412.5 990.0,410.0C996.2,407.5 1006.7,403.9 1015.0,401.0C1023.3,398.1 1033.5,394.1 1040.0,392.5C1046.5,390.9 1049.8,390.7 1054.0,391.5C1058.2,392.3 1062.0,394.1 1065.0,397.5C1068.0,400.9 1069.9,406.6 1072.0,412.0C1074.1,417.4 1076.1,423.7 1077.5,430.0C1078.9,436.3 1080.1,443.3 1080.5,450.0C1080.9,456.7 1080.6,464.0 1080.0,470.0C1079.4,476.0 1078.2,481.3 1077.0,486.0C1075.8,490.7 1075.0,493.7 1072.5,498.0C1070.0,502.3 1066.6,507.1 1062.0,512.0C1057.4,516.9 1052.0,523.5 1045.0,527.5C1038.0,531.5 1028.3,533.7 1020.0,536.0C1011.7,538.3 1002.0,540.3 995.0,541.5C988.0,542.7 982.6,543.2 978.0,543.0C973.4,542.8 970.5,542.2 967.5,540.0C964.5,537.8 962.1,534.7 960.0,530.0C957.9,525.3 956.3,518.7 955.0,512.0C953.7,505.3 952.7,497.0 952.0,490.0C951.3,483.0 950.9,476.7 951.0,470.0C951.1,463.3 951.3,455.8 952.5,450.0C953.7,444.2 955.5,439.2 958.0,435.0C960.5,430.8 964.2,428.2 967.5,425.0Z" fill="#fff" stroke="#161616" stroke-width="3.0" stroke-linejoin="round" stroke-linecap="round" />
<path d="M971.0,429.0C976.3,424.0 980.5,420.2 992.0,415.0C1003.5,409.8 1029.3,400.8 1040.0,398.0C1050.7,395.2 1051.7,396.0 1056.0,398.0C1060.3,400.0 1063.2,403.0 1066.0,410.0C1068.8,417.0 1071.7,430.0 1073.0,440.0C1074.3,450.0 1074.8,460.8 1074.0,470.0C1073.2,479.2 1072.8,486.5 1068.0,495.0C1063.2,503.5 1056.3,514.3 1045.0,521.0C1033.7,527.7 1012.2,532.5 1000.0,535.0C987.8,537.5 978.2,538.5 972.0,536.0C965.8,533.5 965.3,529.3 963.0,520.0C960.7,510.7 958.5,492.5 958.0,480.0C957.5,467.5 957.8,453.5 960.0,445.0C962.2,436.5 965.7,434.0 971.0,429.0Z" fill="none" stroke="#161616" stroke-width="1.6" stroke-linejoin="round" stroke-linecap="round" />
<path d="M995.0,456.0C995.7,448.2 994.3,452.7 1001.0,450.0C1007.7,447.3 1028.3,441.5 1035.0,440.0C1041.7,438.5 1039.5,439.8 1041.0,441.0C1042.5,442.2 1043.0,439.7 1044.0,447.0C1045.0,454.3 1046.8,477.7 1047.0,485.0C1047.2,492.3 1046.3,489.3 1045.0,491.0C1043.7,492.7 1045.5,492.7 1039.0,495.0C1032.5,497.3 1012.5,503.7 1006.0,505.0C999.5,506.3 1001.5,504.3 1000.0,503.0C998.5,501.7 997.8,504.8 997.0,497.0C996.2,489.2 994.3,463.8 995.0,456.0Z" fill="none" stroke="#161616" stroke-width="2.8" stroke-linejoin="round" stroke-linecap="round" />
<path d="M996,457.5 L958.5,469.5" fill="none" stroke="#161616" stroke-width="2.6" stroke-linejoin="round" stroke-linecap="round" />
<path d="M996,457.5 L991.5,414.5" fill="none" stroke="#161616" stroke-width="2.4" stroke-linejoin="round" stroke-linecap="round" />
<path d="M1041.4,442.5 L1074.5,432.5" fill="none" stroke="#161616" stroke-width="2.6" stroke-linejoin="round" stroke-linecap="round" />
<path d="M1041.4,442.5 L1036.5,403" fill="none" stroke="#161616" stroke-width="2.4" stroke-linejoin="round" stroke-linecap="round" />
<path d="M1046.5,491.5 L1076,484" fill="none" stroke="#161616" stroke-width="2.6" stroke-linejoin="round" stroke-linecap="round" />
<path d="M1046.5,491.5 L1050.5,525" fill="none" stroke="#161616" stroke-width="2.4" stroke-linejoin="round" stroke-linecap="round" />
<path d="M1000.5,505 L961,516" fill="none" stroke="#161616" stroke-width="2.6" stroke-linejoin="round" stroke-linecap="round" />
<path d="M1000.5,505 L1004,537" fill="none" stroke="#161616" stroke-width="2.4" stroke-linejoin="round" stroke-linecap="round" />
<path d="M997.0,446.0 L995.5,420.0" fill="none" stroke="#2a2a2a" stroke-width="3.6" stroke-linejoin="round" stroke-linecap="round" />
<path d="M1003.6,443.8 L1002.1,417.8" fill="none" stroke="#2a2a2a" stroke-width="3.6" stroke-linejoin="round" stroke-linecap="round" />
<path d="M1010.2,441.6 L1008.7,415.6" fill="none" stroke="#2a2a2a" stroke-width="3.6" stroke-linejoin="round" stroke-linecap="round" />
<path d="M1016.8,439.4 L1015.3,413.4" fill="none" stroke="#2a2a2a" stroke-width="3.6" stroke-linejoin="round" stroke-linecap="round" />
<path d="M1023.4,437.2 L1021.9,411.2" fill="none" stroke="#2a2a2a" stroke-width="3.6" stroke-linejoin="round" stroke-linecap="round" />
<path d="M1030.0,435.0 L1028.5,409.0" fill="none" stroke="#2a2a2a" stroke-width="3.6" stroke-linejoin="round" stroke-linecap="round" />
<path d="M1036.6,432.8 L1035.1,406.8" fill="none" stroke="#2a2a2a" stroke-width="3.6" stroke-linejoin="round" stroke-linecap="round" />
<path d="M989,420 L1037,404" fill="none" stroke="#161616" stroke-width="2.0" stroke-linejoin="round" stroke-linecap="round" />
<path d="M1048,436.0 L1073,429.0" fill="none" stroke="#2a2a2a" stroke-width="3.4" stroke-linejoin="round" stroke-linecap="round" />
<path d="M1048,442.6 L1073,435.6" fill="none" stroke="#2a2a2a" stroke-width="3.4" stroke-linejoin="round" stroke-linecap="round" />
<path d="M1048,449.2 L1073,442.2" fill="none" stroke="#2a2a2a" stroke-width="3.4" stroke-linejoin="round" stroke-linecap="round" />
<path d="M1048,455.8 L1073,448.8" fill="none" stroke="#2a2a2a" stroke-width="3.4" stroke-linejoin="round" stroke-linecap="round" />
<path d="M1048,462.4 L1073,455.4" fill="none" stroke="#2a2a2a" stroke-width="3.4" stroke-linejoin="round" stroke-linecap="round" />
<path d="M1048,469.0 L1073,462.0" fill="none" stroke="#2a2a2a" stroke-width="3.4" stroke-linejoin="round" stroke-linecap="round" />
<path d="M1048,475.6 L1073,468.6" fill="none" stroke="#2a2a2a" stroke-width="3.4" stroke-linejoin="round" stroke-linecap="round" />
<path d="M1048,482.2 L1073,475.2" fill="none" stroke="#2a2a2a" stroke-width="3.4" stroke-linejoin="round" stroke-linecap="round" />
<path d="M960,473.0 L993,464.0" fill="none" stroke="#2a2a2a" stroke-width="3.4" stroke-linejoin="round" stroke-linecap="round" />
<path d="M960,479.4 L993,470.4" fill="none" stroke="#2a2a2a" stroke-width="3.4" stroke-linejoin="round" stroke-linecap="round" />
<path d="M960,485.8 L993,476.8" fill="none" stroke="#2a2a2a" stroke-width="3.4" stroke-linejoin="round" stroke-linecap="round" />
<path d="M960,492.2 L993,483.2" fill="none" stroke="#2a2a2a" stroke-width="3.4" stroke-linejoin="round" stroke-linecap="round" />
<path d="M960,498.6 L993,489.6" fill="none" stroke="#2a2a2a" stroke-width="3.4" stroke-linejoin="round" stroke-linecap="round" />
<path d="M960,505.0 L993,496.0" fill="none" stroke="#2a2a2a" stroke-width="3.4" stroke-linejoin="round" stroke-linecap="round" />
<path d="M960,511.4 L993,502.4" fill="none" stroke="#2a2a2a" stroke-width="3.4" stroke-linejoin="round" stroke-linecap="round" />
<path d="M960,517.8 L993,508.8" fill="none" stroke="#2a2a2a" stroke-width="3.4" stroke-linejoin="round" stroke-linecap="round" />
<path d="M1004.0,509.0 L1005.0,535.0" fill="none" stroke="#2a2a2a" stroke-width="3.6" stroke-linejoin="round" stroke-linecap="round" />
<path d="M1010.4,507.2 L1011.4,533.2" fill="none" stroke="#2a2a2a" stroke-width="3.6" stroke-linejoin="round" stroke-linecap="round" />
<path d="M1016.8,505.4 L1017.8,531.4" fill="none" stroke="#2a2a2a" stroke-width="3.6" stroke-linejoin="round" stroke-linecap="round" />
<path d="M1023.2,503.6 L1024.2,529.6" fill="none" stroke="#2a2a2a" stroke-width="3.6" stroke-linejoin="round" stroke-linecap="round" />
<path d="M1029.6,501.8 L1030.6,527.8" fill="none" stroke="#2a2a2a" stroke-width="3.6" stroke-linejoin="round" stroke-linecap="round" />
<path d="M1036.0,500.0 L1037.0,526.0" fill="none" stroke="#2a2a2a" stroke-width="3.6" stroke-linejoin="round" stroke-linecap="round" />
<path d="M1042.4,498.2 L1043.4,524.2" fill="none" stroke="#2a2a2a" stroke-width="3.6" stroke-linejoin="round" stroke-linecap="round" />
<path d="M974,446 L986,452" fill="none" stroke="#161616" stroke-width="5" stroke-linejoin="round" stroke-linecap="round" />
<path d="M974,446 L986,452" fill="none" stroke="#fff" stroke-width="2.4" stroke-linejoin="round" stroke-linecap="round" />
<path d="M1048,424 L1058,409" fill="none" stroke="#161616" stroke-width="5" stroke-linejoin="round" stroke-linecap="round" />
<path d="M1048,424 L1058,409" fill="none" stroke="#fff" stroke-width="2.4" stroke-linejoin="round" stroke-linecap="round" />
<path d="M1052,493 L1063,500" fill="none" stroke="#161616" stroke-width="5" stroke-linejoin="round" stroke-linecap="round" />
<path d="M1052,493 L1063,500" fill="none" stroke="#fff" stroke-width="2.4" stroke-linejoin="round" stroke-linecap="round" />
<path d="M980,537 L992,520" fill="none" stroke="#161616" stroke-width="5" stroke-linejoin="round" stroke-linecap="round" />
<path d="M980,537 L992,520" fill="none" stroke="#fff" stroke-width="2.4" stroke-linejoin="round" stroke-linecap="round" />
<path d="M988.0,371.0C989.0,372.5 991.8,376.8 994.0,380.0C996.2,383.2 998.7,387.0 1001.0,390.0C1003.3,393.0 1006.8,396.7 1008.0,398.0" fill="none" stroke="#161616" stroke-width="2.4" stroke-linejoin="round" stroke-linecap="round" />
<path d="M994.0,368.0C995.2,369.7 998.8,374.3 1001.0,378.0C1003.2,381.7 1005.3,386.8 1007.0,390.0C1008.7,393.2 1010.3,395.8 1011.0,397.0" fill="none" stroke="#161616" stroke-width="1.8" stroke-linejoin="round" stroke-linecap="round" />
<path d="M1029.0,366.0C1029.8,367.7 1031.8,372.3 1034.0,376.0C1036.2,379.7 1040.7,386.0 1042.0,388.0" fill="none" stroke="#161616" stroke-width="2.6" stroke-linejoin="round" stroke-linecap="round" />
<path d="M1036.0,368.0C1037.3,369.7 1041.3,375.0 1044.0,378.0C1046.7,381.0 1050.7,384.7 1052.0,386.0" fill="none" stroke="#161616" stroke-width="1.6" stroke-linejoin="round" stroke-linecap="round" />
<path d="M983.0,366.5C985.8,366.0 994.7,364.0 1000.0,363.5C1005.3,363.0 1010.0,363.1 1015.0,363.5C1020.0,363.9 1027.5,365.6 1030.0,366.0" fill="none" stroke="#161616" stroke-width="2.6" stroke-linejoin="round" stroke-linecap="round" />
<ellipse cx="982.5" cy="378" rx="3.8" ry="3.6" transform="rotate(0 982.5 378)" fill="#777" stroke="#161616" stroke-width="2.4" />
<path d="M976,376 L988,384" fill="none" stroke="#161616" stroke-width="2.0" stroke-linejoin="round" stroke-linecap="round" />
<path d="M980,363 L986,365" fill="none" stroke="#161616" stroke-width="3.2" stroke-linejoin="round" stroke-linecap="round" />
<path d="M912.0,478.0C914.2,477.7 920.3,475.3 925.0,476.0C929.7,476.7 935.7,479.7 940.0,482.0C944.3,484.3 949.2,488.7 951.0,490.0" fill="none" stroke="#161616" stroke-width="1.8" stroke-linejoin="round" stroke-linecap="round" />
<ellipse cx="918" cy="482" rx="3" ry="3.4" transform="rotate(0 918 482)" fill="none" stroke="#161616" stroke-width="1.4" />
<path d="M918.0,492.0C920.8,492.3 929.3,492.7 935.0,494.0C940.7,495.3 949.2,499.0 952.0,500.0" fill="none" stroke="#161616" stroke-width="1.6" stroke-linejoin="round" stroke-linecap="round" />
<path d="M924,506 L948,512" fill="none" stroke="#161616" stroke-width="2.4" stroke-linejoin="round" stroke-linecap="round" />
<path d="M930,520 L952,526" fill="none" stroke="#161616" stroke-width="2.8" stroke-linejoin="round" stroke-linecap="round" />
<path d="M940,536 L958,538" fill="none" stroke="#161616" stroke-width="2.0" stroke-linejoin="round" stroke-linecap="round" />
<path d="M1069.0,286.6C1070.7,284.3 1072.8,280.4 1075.0,278.0C1077.2,275.6 1079.8,274.3 1082.0,272.5C1084.2,270.7 1085.8,268.4 1088.0,267.0C1090.2,265.6 1092.7,264.4 1095.0,263.8C1097.3,263.2 1099.8,263.1 1102.0,263.5C1104.2,263.9 1105.3,264.4 1108.0,266.0C1110.7,267.6 1114.8,270.1 1118.0,273.0C1121.2,275.9 1124.5,279.5 1127.5,283.3C1130.5,287.1 1133.1,291.6 1136.0,296.0C1138.9,300.4 1141.9,304.1 1144.9,309.4C1147.9,314.7 1151.1,321.9 1154.0,328.0C1156.9,334.1 1160.5,341.9 1162.2,346.2C1163.9,350.5 1163.8,351.5 1164.0,354.0C1164.2,356.5 1164.3,358.6 1163.3,361.4C1162.3,364.2 1160.0,368.1 1158.0,371.0C1156.0,373.9 1154.1,376.4 1151.4,378.7C1148.7,381.0 1145.2,383.2 1142.0,385.0C1138.8,386.8 1134.9,388.6 1131.9,389.5C1128.9,390.4 1126.5,390.5 1124.0,390.5C1121.5,390.5 1119.9,390.2 1116.7,389.5C1113.5,388.8 1108.6,387.6 1105.0,386.5C1101.4,385.4 1098.2,384.4 1095.0,383.0C1091.8,381.6 1088.9,379.8 1086.0,378.0C1083.1,376.2 1080.2,375.0 1077.7,372.2C1075.2,369.4 1073.5,364.3 1071.2,361.4C1068.9,358.5 1065.8,357.2 1064.0,355.0C1062.2,352.8 1061.0,351.4 1060.3,348.4C1059.6,345.4 1060.0,340.6 1060.0,337.0C1060.0,333.4 1060.1,330.7 1060.3,326.7C1060.5,322.7 1060.6,317.3 1061.0,313.0C1061.4,308.7 1061.8,304.2 1062.5,300.7C1063.2,297.2 1063.9,294.4 1065.0,292.0C1066.1,289.6 1067.3,288.9 1069.0,286.6Z" fill="#fff" stroke="#161616" stroke-width="2.6" stroke-linejoin="round" stroke-linecap="round" />
<path d="M1072.0,289.0C1075.0,284.0 1080.0,278.5 1084.0,275.0C1088.0,271.5 1092.2,268.8 1096.0,268.0C1099.8,267.2 1102.2,266.8 1107.0,270.0C1111.8,273.2 1119.2,280.0 1125.0,287.0C1130.8,294.0 1136.5,302.0 1142.0,312.0C1147.5,322.0 1155.3,338.8 1158.0,347.0C1160.7,355.2 1159.7,356.2 1158.0,361.0C1156.3,365.8 1152.5,372.0 1148.0,376.0C1143.5,380.0 1136.2,383.5 1131.0,385.0C1125.8,386.5 1122.8,386.2 1117.0,385.0C1111.2,383.8 1102.2,380.8 1096.0,378.0C1089.8,375.2 1084.3,372.3 1080.0,368.0C1075.7,363.7 1072.5,356.7 1070.0,352.0C1067.5,347.3 1065.7,347.8 1065.0,340.0C1064.3,332.2 1064.8,313.5 1066.0,305.0C1067.2,296.5 1069.0,294.0 1072.0,289.0Z" fill="none" stroke="#161616" stroke-width="1.2" stroke-linejoin="round" stroke-linecap="round" />
<path d="M1097.2,282.3C1095.3,282.9 1092.5,286.3 1090.0,289.0C1087.5,291.7 1084.0,294.7 1082.0,298.5C1080.0,302.3 1078.9,307.3 1078.0,312.0C1077.1,316.7 1076.4,322.0 1076.6,326.7C1076.8,331.4 1077.7,335.7 1079.0,340.0C1080.3,344.3 1082.0,348.9 1084.2,352.7C1086.4,356.5 1089.1,359.8 1092.0,363.0C1094.9,366.2 1098.2,370.0 1101.5,372.2C1104.8,374.4 1108.4,375.3 1112.0,376.0C1115.6,376.7 1120.0,376.9 1123.2,376.5C1126.4,376.1 1128.8,374.9 1131.0,373.5C1133.2,372.1 1135.0,370.1 1136.2,367.9C1137.5,365.6 1138.1,362.5 1138.5,360.0C1138.9,357.5 1139.3,355.7 1138.4,352.7C1137.5,349.7 1135.2,345.6 1133.0,342.0C1130.8,338.4 1127.9,335.2 1125.4,331.0C1122.9,326.8 1120.5,321.7 1118.0,317.0C1115.5,312.3 1112.4,307.1 1110.2,302.9C1108.0,298.7 1106.5,294.9 1105.0,292.0C1103.5,289.1 1102.8,287.1 1101.5,285.5C1100.2,283.9 1099.1,281.7 1097.2,282.3Z" fill="#fff" stroke="#9a9a9a" stroke-width="9" stroke-linejoin="round" stroke-linecap="round" />
<path d="M1097.2,282.3C1095.3,282.9 1092.5,286.3 1090.0,289.0C1087.5,291.7 1084.0,294.7 1082.0,298.5C1080.0,302.3 1078.9,307.3 1078.0,312.0C1077.1,316.7 1076.4,322.0 1076.6,326.7C1076.8,331.4 1077.7,335.7 1079.0,340.0C1080.3,344.3 1082.0,348.9 1084.2,352.7C1086.4,356.5 1089.1,359.8 1092.0,363.0C1094.9,366.2 1098.2,370.0 1101.5,372.2C1104.8,374.4 1108.4,375.3 1112.0,376.0C1115.6,376.7 1120.0,376.9 1123.2,376.5C1126.4,376.1 1128.8,374.9 1131.0,373.5C1133.2,372.1 1135.0,370.1 1136.2,367.9C1137.5,365.6 1138.1,362.5 1138.5,360.0C1138.9,357.5 1139.3,355.7 1138.4,352.7C1137.5,349.7 1135.2,345.6 1133.0,342.0C1130.8,338.4 1127.9,335.2 1125.4,331.0C1122.9,326.8 1120.5,321.7 1118.0,317.0C1115.5,312.3 1112.4,307.1 1110.2,302.9C1108.0,298.7 1106.5,294.9 1105.0,292.0C1103.5,289.1 1102.8,287.1 1101.5,285.5C1100.2,283.9 1099.1,281.7 1097.2,282.3Z" fill="#fff" stroke="#fff" stroke-width="6" stroke-linejoin="round" stroke-linecap="round" />
<path d="M1066.0,300.0C1065.8,305.0 1064.7,321.3 1065.0,330.0C1065.3,338.7 1065.8,345.7 1068.0,352.0C1070.2,358.3 1073.3,363.3 1078.0,368.0C1082.7,372.7 1089.3,376.8 1096.0,380.0C1102.7,383.2 1111.7,386.2 1118.0,387.0C1124.3,387.8 1128.7,387.2 1134.0,385.0C1139.3,382.8 1146.0,378.2 1150.0,374.0C1154.0,369.8 1156.7,362.3 1158.0,360.0" fill="none" stroke="#161616" stroke-width="2.2" stroke-linejoin="round" stroke-linecap="round" />
<path d="M1071.0,292.0C1073.0,289.5 1078.8,280.8 1083.0,277.0C1087.2,273.2 1092.2,270.2 1096.0,269.0C1099.8,267.8 1104.3,269.8 1106.0,270.0" fill="none" stroke="#161616" stroke-width="2.0" stroke-linejoin="round" stroke-linecap="round" />
<path d="M1097.2,282.3C1095.3,282.9 1092.5,286.3 1090.0,289.0C1087.5,291.7 1084.0,294.7 1082.0,298.5C1080.0,302.3 1078.9,307.3 1078.0,312.0C1077.1,316.7 1076.4,322.0 1076.6,326.7C1076.8,331.4 1077.7,335.7 1079.0,340.0C1080.3,344.3 1082.0,348.9 1084.2,352.7C1086.4,356.5 1089.1,359.8 1092.0,363.0C1094.9,366.2 1098.2,370.0 1101.5,372.2C1104.8,374.4 1108.4,375.3 1112.0,376.0C1115.6,376.7 1120.0,376.9 1123.2,376.5C1126.4,376.1 1128.8,374.9 1131.0,373.5C1133.2,372.1 1135.0,370.1 1136.2,367.9C1137.5,365.6 1138.1,362.5 1138.5,360.0C1138.9,357.5 1139.3,355.7 1138.4,352.7C1137.5,349.7 1135.2,345.6 1133.0,342.0C1130.8,338.4 1127.9,335.2 1125.4,331.0C1122.9,326.8 1120.5,321.7 1118.0,317.0C1115.5,312.3 1112.4,307.1 1110.2,302.9C1108.0,298.7 1106.5,294.9 1105.0,292.0C1103.5,289.1 1102.8,287.1 1101.5,285.5C1100.2,283.9 1099.1,281.7 1097.2,282.3Z" fill="#fff" stroke="#161616" stroke-width="2.6" stroke-linejoin="round" stroke-linecap="round" />
<path d="M1094.0,286.0C1092.7,287.7 1088.2,291.7 1086.0,296.0C1083.8,300.3 1082.0,306.3 1081.0,312.0C1080.0,317.7 1079.2,323.7 1080.0,330.0C1080.8,336.3 1083.0,344.0 1086.0,350.0C1089.0,356.0 1093.7,362.3 1098.0,366.0C1102.3,369.7 1107.7,371.0 1112.0,372.0C1116.3,373.0 1120.7,372.8 1124.0,372.0C1127.3,371.2 1130.7,367.8 1132.0,367.0" fill="none" stroke="#161616" stroke-width="1.2" stroke-linejoin="round" stroke-linecap="round" />
<path d="M1064.0,300.0C1063.8,304.2 1063.0,316.7 1063.0,325.0C1063.0,333.3 1063.2,344.2 1064.0,350.0C1064.8,355.8 1067.3,358.3 1068.0,360.0" fill="none" stroke="#444" stroke-width="2.6" stroke-linejoin="round" stroke-linecap="round" />
<path d="M1070.0,296.0C1069.8,300.8 1068.8,315.7 1069.0,325.0C1069.2,334.3 1070.7,347.5 1071.0,352.0" fill="none" stroke="#444" stroke-width="1.6" stroke-linejoin="round" stroke-linecap="round" />
<path d="M1114.5,282.0C1115.6,283.3 1118.4,286.3 1121.0,290.0C1123.6,293.7 1127.0,298.8 1130.0,304.0C1133.0,309.2 1136.0,315.2 1139.0,321.0C1142.0,326.8 1145.7,333.8 1148.0,339.0C1150.3,344.2 1152.2,349.8 1153.0,352.0" fill="none" stroke="#222" stroke-width="13" stroke-linejoin="round" stroke-linecap="round" />
<rect x="1110.0" y="282.4" width="13" height="4.4" rx="2.2" fill="#fff" transform="rotate(-27 1116.5 284.5)"/>
<rect x="1114.6" y="290.4" width="13" height="4.4" rx="2.2" fill="#fff" transform="rotate(-27 1121.1 292.5)"/>
<rect x="1119.2" y="298.4" width="13" height="4.4" rx="2.2" fill="#fff" transform="rotate(-27 1125.7 300.5)"/>
<rect x="1123.8" y="306.4" width="13" height="4.4" rx="2.2" fill="#fff" transform="rotate(-27 1130.3 308.5)"/>
<rect x="1128.4" y="314.4" width="13" height="4.4" rx="2.2" fill="#fff" transform="rotate(-27 1134.9 316.5)"/>
<rect x="1133.0" y="322.4" width="13" height="4.4" rx="2.2" fill="#fff" transform="rotate(-27 1139.5 324.5)"/>
<rect x="1137.6" y="330.4" width="13" height="4.4" rx="2.2" fill="#fff" transform="rotate(-27 1144.1 332.5)"/>
<rect x="1142.2" y="338.4" width="13" height="4.4" rx="2.2" fill="#fff" transform="rotate(-27 1148.7 340.5)"/>
<rect x="1146.8" y="346.4" width="13" height="4.4" rx="2.2" fill="#fff" transform="rotate(-27 1153.3 348.5)"/>
<path d="M1122.0,275.0C1124.3,278.3 1131.3,287.0 1136.0,295.0C1140.7,303.0 1146.2,314.2 1150.0,323.0C1153.8,331.8 1157.5,343.8 1159.0,348.0" fill="none" stroke="#161616" stroke-width="1.4" stroke-linejoin="round" stroke-linecap="round" />
<g transform="rotate(42 1062.5 372)">
<rect x="1050.5" y="360" width="24" height="24" rx="5" fill="#3a3a3a" stroke="#161616" stroke-width="1.6"/>
<line x1="1052" x2="1073" y1="366" y2="366" stroke="#bbb" stroke-width="1.2"/>
<line x1="1052" x2="1073" y1="372" y2="372" stroke="#bbb" stroke-width="1.2"/>
<line x1="1052" x2="1073" y1="378" y2="378" stroke="#bbb" stroke-width="1.2"/>
</g>
<path d="M1073.0,362.0C1074.0,361.2 1077.3,359.0 1079.0,357.0C1080.7,355.0 1082.3,351.2 1083.0,350.0" fill="none" stroke="#161616" stroke-width="2.4" stroke-linejoin="round" stroke-linecap="round" />
<path d="M1076.0,372.0C1077.7,373.0 1082.3,376.2 1086.0,378.0C1089.7,379.8 1096.0,382.2 1098.0,383.0" fill="none" stroke="#161616" stroke-width="3.0" stroke-linejoin="round" stroke-linecap="round" />
<path d="M1083,352 L1092,364" fill="none" stroke="#161616" stroke-width="3.0" stroke-linejoin="round" stroke-linecap="round" />
<ellipse cx="1090" cy="366" rx="3.2" ry="4.2" transform="rotate(0 1090 366)" fill="#333" stroke="#161616" stroke-width="2.0" />
<path d="M1052.0,378.0C1051.0,379.0 1047.7,381.7 1046.0,384.0C1044.3,386.3 1042.7,390.7 1042.0,392.0" fill="none" stroke="#161616" stroke-width="2.2" stroke-linejoin="round" stroke-linecap="round" />
<ellipse cx="306.2" cy="504" rx="19.3" ry="15.3" transform="rotate(0 306.2 504)" fill="none" stroke="#161616" stroke-width="1.5" />
<ellipse cx="306.2" cy="504" rx="17.2" ry="13.4" transform="rotate(0 306.2 504)" fill="none" stroke="#161616" stroke-width="1.3" />
<ellipse cx="306.7" cy="504.5" rx="9" ry="13" transform="rotate(0 306.7 504.5)" fill="none" stroke="#161616" stroke-width="1.5" />
<ellipse cx="306.7" cy="504.5" rx="7.2" ry="11.2" transform="rotate(0 306.7 504.5)" fill="none" stroke="#161616" stroke-width="1.2" />
<path d="M286.5,521 C292,518 297,520 300,521 L313,521 C317,519 322,518 327,521" fill="none" stroke="#161616" stroke-width="2.2" stroke-linejoin="round" stroke-linecap="round" />
<ellipse cx="289.5" cy="521.5" rx="3" ry="1.6" transform="rotate(0 289.5 521.5)" fill="none" stroke="#161616" stroke-width="1.2" />
<ellipse cx="323.5" cy="521.5" rx="3" ry="1.6" transform="rotate(0 323.5 521.5)" fill="none" stroke="#161616" stroke-width="1.2" />
<path d="M298,522 L315,522 L312.5,533 L310.5,540 L304,540 L301,533Z" fill="#3a3a3a" stroke="#161616" stroke-width="1.6" stroke-linejoin="round" stroke-linecap="round" />
<path d="M305.5,523 v15 M308.5,523 v15" fill="none" stroke="#ccc" stroke-width="1" stroke-linejoin="round" stroke-linecap="round" />
<path d="M299,528 h15 M300.5,533.5 h12" fill="none" stroke="#ddd" stroke-width="1" stroke-linejoin="round" stroke-linecap="round" />
<path d="M58,363 L72,372 L67,377Z" fill="#555" stroke="#161616" stroke-width="1.6" stroke-linejoin="round" stroke-linecap="round" />
<path d="M58,363 L63,361" fill="none" stroke="#161616" stroke-width="2.4" stroke-linejoin="round" stroke-linecap="round" />
</g>
</svg>
</body></html>
